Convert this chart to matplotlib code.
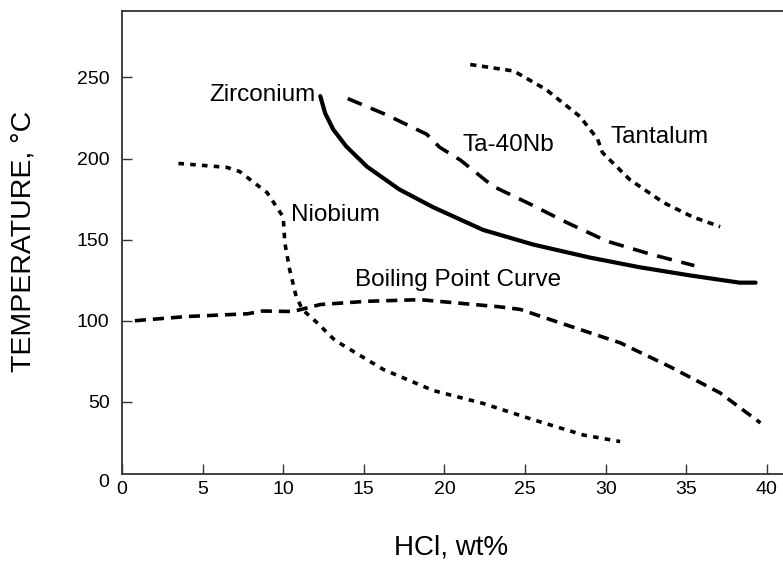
import matplotlib
matplotlib.use("Agg")
import matplotlib.pyplot as plt

plt.rcParams['font.family'] = ['Liberation Sans', 'DejaVu Sans']
plt.rcParams['lines.scale_dashes'] = False

# Data (HCl wt%, temperature °C)
zr_x = [12.3, 12.6, 13.1, 13.9, 15.2, 17.2, 19.3, 22.4, 25.5, 29.0, 32.1, 35.2, 38.3, 39.3]
zr_y = [238.5, 228, 218, 207.6, 195, 181, 170, 156, 147, 139, 133, 128, 123.5, 123.5]

tanb_x = [14.0, 16.4, 18.9, 19.7, 21.0, 23.0, 25.3, 27.6, 30.1, 32.8, 35.5]
tanb_y = [237, 227, 215, 207, 199, 183, 172, 160.5, 149, 141, 134]

ta_x = [21.6, 24.3, 26.3, 28.4, 29.5, 29.8, 31.5, 33.6, 35.4, 37.1]
ta_y = [258, 254, 242.6, 226, 212, 203.7, 187, 172.8, 164, 158]

nb_x = [3.5, 6.5, 7.3, 9.0, 10.0, 10.1, 10.4, 10.8, 11.2, 12.1, 13.2, 16.2, 19.3, 22.4, 25.5, 28.6, 30.9]
nb_y = [197, 194.6, 192, 179, 164, 148, 131.5, 115, 106.8, 98.8, 88, 70, 57, 49, 39, 29.6, 25.5]

bp_x = [0.8, 4.0, 7.8, 8.7, 10.6, 12.3, 15.2, 18.5, 23.4, 24.7, 26.6, 30.9, 34.0, 37.1, 39.6]
bp_y = [100, 102.6, 104.3, 106, 105.7, 110, 112, 113, 108.6, 107, 100.6, 86.4, 71.6, 55.5, 37]

xticks = [0, 5, 10, 15, 20, 25, 30, 35, 40]
yticks = [50, 100, 150, 200, 250]

fig = plt.figure(figsize=(7.83, 5.62), dpi=100)
W, H = 783, 562
ax = fig.add_axes([122 / W, 1 - 474 / H, (783 - 122) / W, (474 - 11) / H])

ax.plot(zr_x, zr_y, color='black', lw=3.0, solid_capstyle='round')
ax.plot(tanb_x, tanb_y, color='black', lw=2.6, dashes=(11, 7))
ax.plot(ta_x, ta_y, color='black', lw=2.6, dashes=(4.5, 4))
ax.plot(nb_x, nb_y, color='black', lw=2.6, dashes=(4, 4.5))
ax.plot(bp_x, bp_y, color='black', lw=2.6, dashes=(8, 5))

ax.set_xlim(0, 41)
ax.set_ylim(5.5, 291)
ax.set_xticks(xticks)
ax.set_yticks(yticks)
ax.tick_params(direction='in', length=7, width=1.0, labelsize=14, color='#333333')
ax.tick_params(axis='x', pad=5)
ax.tick_params(axis='y', pad=9)
for s in ['left', 'bottom', 'top']:
    ax.spines[s].set_color('#333333')
    ax.spines[s].set_linewidth(1.3)
ax.spines['right'].set_visible(False)

ax.annotate('0', xy=(0, 0), xycoords='data', xytext=(-9, 0), textcoords='offset points',
            ha='right', va='center', fontsize=14, annotation_clip=False)

ax.set_xlabel('HCl, wt%', fontsize=20, va='center')
ax.xaxis.set_label_coords((451.5 - 122) / 661, (474 - 547) / 463)
ax.set_ylabel('TEMPERATURE, °C', fontsize=20.5, va='center')
ax.yaxis.set_label_coords((24 - 122) / 661, (474 - 241) / 463)

lbl = dict(fontsize=17.5, color='black')
ax.text(12.03, 239, 'Zirconium', ha='right', va='center', **lbl)
ax.text(21.15, 208.6, 'Ta-40Nb', ha='left', va='center', **lbl)
ax.text(30.27, 213, 'Tantalum', ha='left', va='center', **lbl)
ax.text(10.5, 165.4, 'Niobium', ha='left', va='center', **lbl)
ax.text(14.45, 125, 'Boiling Point Curve', ha='left', va='center', **lbl)

fig.savefig('out.png', dpi=100)
